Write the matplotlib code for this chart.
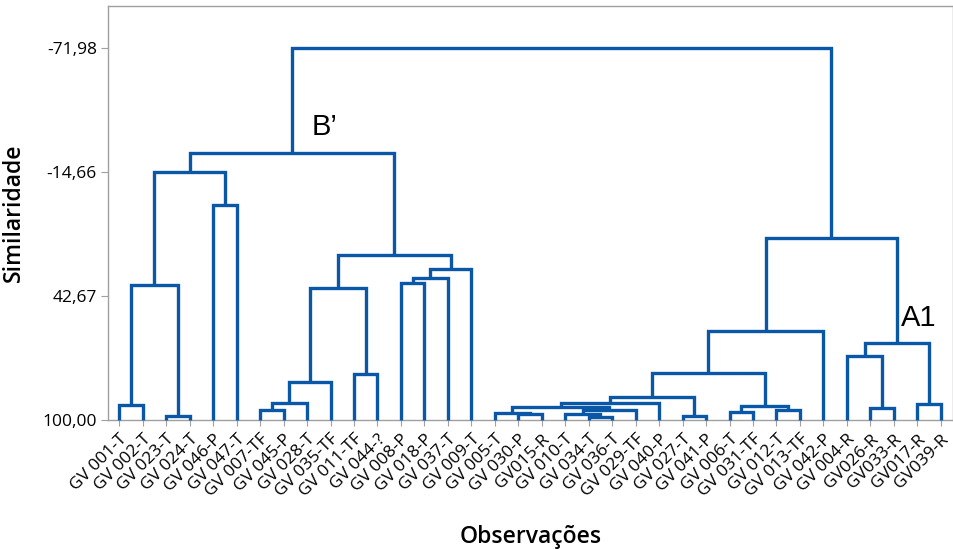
import matplotlib
matplotlib.use('Agg')
import matplotlib.pyplot as plt

plt.rcParams['font.family'] = ['Open Sans', 'DejaVu Sans']

# observations in dendrogram order
labels = ['GV 001-T', 'GV 002-T', 'GV 023-T', 'GV 024-T', 'GV 046-P', 'GV 047-T',
          'GV 007-TF', 'GV 045-P', 'GV 028-T', 'GV 035-TF', 'GV 011-TF', 'GV 044-?',
          'GV 008-P', 'GV 018-P', 'GV 037-T', 'GV 009-T', 'GV 005-T', 'GV 030-P',
          'GV015-R', 'GV 010-T', 'GV 034-T', 'GV 036-T', 'GV 029-TF', 'GV 040-P',
          'GV 027-T', 'GV 041-P', 'GV 006-T', 'GV 031-TF', 'GV 012-T', 'GV 013-TF',
          'GV 042-P', 'GV 004-R', 'GV026-R', 'GV033-R', 'GV017-R', 'GV039-R']

# linkage steps: node ids 0..35 are leaves, merge k creates node 36+k
merge_left = [2, 20, 17, 19, 24, 16, 26, 39, 6, 28, 32, 41, 42, 0, 34, 47, 44, 51,
              52, 10, 53, 31, 57, 56, 49, 54, 12, 62, 63, 61, 59, 4, 60, 68, 69]
merge_right = [3, 21, 18, 37, 25, 38, 27, 22, 7, 29, 33, 43, 45, 1, 35, 23, 8, 40,
               9, 11, 48, 46, 50, 30, 36, 55, 13, 14, 15, 64, 58, 5, 67, 65, 66]
merge_sim = [98.2, 98.5, 97.4, 97.3, 98.0, 96.9, 96.2, 95.4, 95.4, 95.4, 94.6, 94.1,
             93.5, 93.1, 92.6, 92.3, 92.0, 89.4, 82.3, 78.9, 78.2, 70.4, 64.3, 58.9,
             37.6, 39.2, 36.9, 34.3, 30.4, 23.8, 16.1, 0.7, -14.5, -23.5, -71.98]

yticks = [-71.98, -14.66, 42.67, 100.00]
ytick_labels = ['-71,98', '-14,66', '42,67', '100,00']

blue = '#0A57A8'
grey = '#A0A0A0'

fig = plt.figure(figsize=(9.54, 5.49), dpi=100)
ax = fig.add_axes([0.1132, 0.235, 0.886, 0.754])

xpos = {i: float(i) for i in range(len(labels))}
hgt = {i: 100.0 for i in range(len(labels))}
for k, (a, b, h) in enumerate(zip(merge_left, merge_right, merge_sim)):
    node = len(labels) + k
    ax.plot([xpos[a], xpos[a], xpos[b], xpos[b]], [hgt[a], h, h, hgt[b]],
            color=blue, lw=2.4, solid_joinstyle='miter', solid_capstyle='butt',
            clip_on=False, zorder=3)
    xpos[node] = (xpos[a] + xpos[b]) / 2
    hgt[node] = h

ax.set_xlim(-0.48, len(labels) - 0.47)
ax.set_ylim(100, -91.2)

ax.set_xticks(range(len(labels)))
ax.set_xticklabels(labels, rotation=45, ha='right', rotation_mode='anchor', fontsize=12.5)
ax.set_yticks(yticks)
ax.set_yticklabels(ytick_labels, fontsize=12.5)
ax.tick_params(axis='x', length=4, color=grey, pad=4)
ax.tick_params(axis='y', length=5, color=grey, pad=3)
for s in ax.spines.values():
    s.set_color(grey)
    s.set_linewidth(1.0)

ax.set_ylabel('Similaridade', fontsize=16.5, fontweight='semibold', labelpad=12)
ax.set_xlabel('Observações', fontsize=16.5, fontweight='semibold', labelpad=18)

ax.text(8.2, -31.6, 'B’', fontsize=21, family='Liberation Sans', va='baseline', ha='left')
ax.text(33.3, 56.6, 'A1', fontsize=21, family='Liberation Sans', va='baseline', ha='left')

fig.savefig('out.png', dpi=100)
